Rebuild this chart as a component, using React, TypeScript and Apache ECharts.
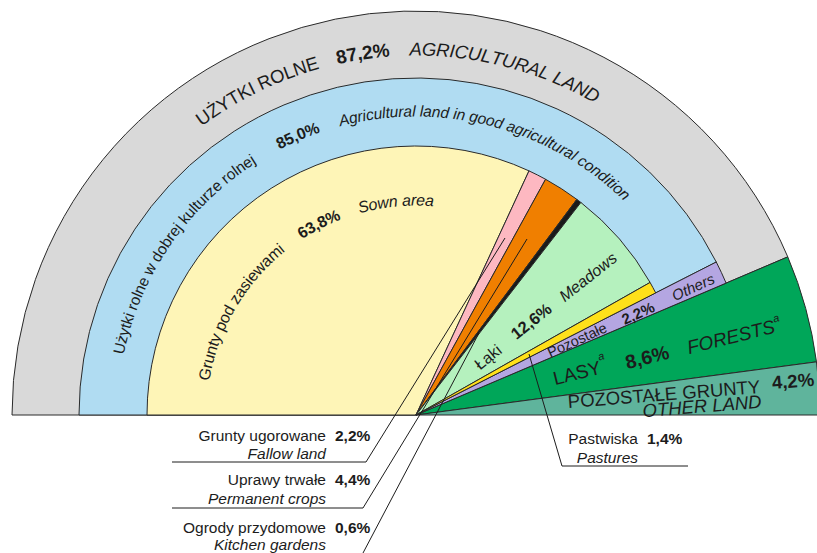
import React, { useEffect, useRef } from 'react';
import * as echarts from 'echarts';

// ---------- data (percent of total area) ----------
const outerNames = ['Użytki rolne', 'Lasy', 'Pozostałe grunty'];
const outerValues = [87.2, 8.6, 4.2];
const midNames = ['Użytki rolne w dobrej kulturze rolnej', 'Pozostałe'];
const midValues = [85.0, 2.2];
const innerNames = ['Grunty pod zasiewami', 'Grunty ugorowane', 'Uprawy trwałe', 'Ogrody przydomowe', 'Łąki', 'Pastwiska'];
const innerValues = [63.8, 2.2, 4.4, 0.6, 12.6, 1.4];

const calloutPl = ['Grunty ugorowane', 'Uprawy trwałe', 'Ogrody przydomowe'];
const calloutEn = ['Fallow land', 'Permanent crops', 'Kitchen gardens'];
const calloutVal = ['2,2%', '4,4%', '0,6%'];

// ---------- styles ----------
const outerColors = ['#d9d9d9', '#00a659', '#5fb49c'];
const midColors = ['#b0dcf2', '#b4a6e2'];
const innerColors = ['#fef5b7', '#fdb8c1', '#f07f00', '#1a1a1a', '#b5f1be', '#ffe01a'];

const CX = 416, CY = 415;
const R_OUTER = 404, R_MID = 337, R_INNER = 269;
const FAMILY = "'Liberation Sans', Arial, Helvetica, sans-serif";
const INK = '#1c1c1c';
const EDGE = '#2a2a2a';

const f = (size: number, weight = 'normal', style = 'normal') => `${style} ${weight} ${size}px ${FAMILY}`;

let mctx: CanvasRenderingContext2D | null = null;
function measure(t: string, font: string) {
  if (!mctx) mctx = document.createElement('canvas').getContext('2d');
  mctx!.font = font;
  return mctx!.measureText(t).width;
}

function txt(x: number, y: number, text: string, font: string, align = 'center', rotDeg = 0, fill = INK) {
  return {
    type: 'text', x, y, rotation: (rotDeg * Math.PI) / 180, silent: true, z: 10,
    style: { text, font, fill, textAlign: align, textVerticalAlign: 'middle', align, verticalAlign: 'middle' },
  };
}

function arcText(r: number, startDeg: number, text: string, font: string) {
  const els: any[] = [];
  let cum = 0;
  for (const ch of Array.from(text)) {
    const w = measure(ch, font);
    const th = ((startDeg - ((cum + w / 2) / r) * (180 / Math.PI)) * Math.PI) / 180;
    if (ch !== ' ') {
      els.push({
        type: 'text', x: CX + r * Math.cos(th), y: CY - r * Math.sin(th), rotation: th - Math.PI / 2,
        silent: true, z: 10,
        style: { text: ch, font, fill: INK, textAlign: 'center', textVerticalAlign: 'middle', align: 'center', verticalAlign: 'middle' },
      });
    }
    cum += w;
  }
  return els;
}

function line(points: number[][]) {
  return { type: 'polyline', silent: true, z: 9, shape: { points }, style: { stroke: INK, lineWidth: 1, fill: 'none' } };
}

const sum = (a: number[]) => a.reduce((s, v) => s + v, 0);
const TOTAL = sum(outerValues);
const hidden = { itemStyle: { color: 'rgba(0,0,0,0)', borderWidth: 0 } };

function pie(names: string[], values: number[], colors: string[], radius: number) {
  const data: any[] = names.map((n, i) => ({ name: n, value: values[i], itemStyle: { color: colors[i] } }));
  const pad = TOTAL - sum(values);
  if (pad > 0.0001) data.push({ name: 'rest', value: pad, ...hidden });
  data.push({ name: 'bottom', value: TOTAL, ...hidden });
  return {
    type: 'pie', center: [CX, CY], radius: [0, radius], startAngle: 180, clockwise: true,
    silent: true, avoidLabelOverlap: false, label: { show: false }, labelLine: { show: false },
    emphasis: { disabled: true }, itemStyle: { borderColor: EDGE, borderWidth: 1 }, data,
  };
}

function buildOption() {
  const g: any[] = [];
  // curved ring labels
  g.push(...arcText(366, 126.6, 'UŻYTKI ROLNE', f(18.5)));
  g.push(...arcText(366, 102.6, '87,2%', f(19, 'bold')));
  g.push(...arcText(366, 91, 'AGRICULTURAL LAND', f(18.5, 'normal', 'italic')));
  g.push(...arcText(304, 168.4, 'Użytki rolne w dobrej kulturze rolnej', f(15.5)));
  g.push(...arcText(304, 117.2, '85,0%', f(16, 'bold')));
  g.push(...arcText(304, 104.7, 'Agricultural land in good agricultural condition', f(15.5, 'normal', 'italic')));
  g.push(...arcText(215, 170.7, 'Grunty pod zasiewami', f(16)));
  g.push(...arcText(215, 123, '63,8%', f(16, 'bold')));
  g.push(...arcText(215, 105.6, 'Sown area', f(16, 'normal', 'italic')));

  // radial labels
  g.push(txt(488, 357, 'Łąki', f(16), 'center', 38.5));
  g.push(txt(531, 321, '12,6%', f(16.5, 'bold'), 'center', 38.5));
  g.push(txt(588, 277, 'Meadows', f(16, 'normal', 'italic'), 'center', 38.5));

  g.push(txt(577, 340, 'Pozostałe', f(14.5), 'center', 24.6));
  g.push(txt(638, 313, '2,2%', f(15, 'bold'), 'center', 24.6));
  g.push(txt(693, 287, 'Others', f(15, 'normal', 'italic'), 'center', 24.6));

  g.push(txt(577, 373, 'LASY', f(19), 'center', 14));
  g.push(txt(601, 356, 'a', f(11, 'normal', 'italic'), 'center', 14));
  g.push(txt(647, 357, '8,6%', f(19.5, 'bold'), 'center', 14));
  g.push(txt(731, 337, 'FORESTS', f(19, 'normal', 'italic'), 'center', 14));
  g.push(txt(776, 318, 'a', f(11, 'normal', 'italic'), 'center', 14));

  g.push(txt(664, 394, 'POZOSTAŁE GRUNTY', f(18.5), 'center', 4.5));
  g.push(txt(793, 381, '4,2%', f(18.5, 'bold'), 'center', 4.5));
  g.push(txt(702, 406, 'OTHER LAND', f(18.5, 'normal', 'italic'), 'center', 4.5));

  // callouts below
  const ys = [435, 479, 527];
  const ys2 = [453, 498, 544];
  for (let i = 0; i < 3; i++) {
    g.push(txt(326, ys[i], calloutPl[i], f(15.5), 'left' === 'x' ? 'left' : 'right'));
    g.push(txt(326, ys2[i], calloutEn[i], f(15.5, 'normal', 'italic'), 'right'));
    g.push(txt(335, ys[i], calloutVal[i], f(15.5, 'bold'), 'left'));
  }
  g.push(txt(638, 438, 'Pastwiska', f(15.5), 'right'));
  g.push(txt(638, 457, 'Pastures', f(15.5, 'normal', 'italic'), 'right'));
  g.push(txt(647, 438, '1,4%', f(15.5, 'bold'), 'left'));

  // leader lines
  g.push(line([[172, 462], [366, 462], [505, 238]]));
  g.push(line([[172, 508], [363, 508], [527, 239]]));
  g.push(line([[363, 553], [479, 333]]));
  g.push(line([[529, 354], [562, 466], [688, 466]]));

  return {
    animation: false,
    backgroundColor: '#ffffff',
    series: [
      pie(outerNames, outerValues, outerColors, R_OUTER),
      pie(midNames, midValues, midColors, R_MID),
      pie(innerNames, innerValues, innerColors, R_INNER),
    ],
    graphic: { elements: g },
  };
}

export default function App() {
  const ref = useRef<HTMLDivElement>(null);
  useEffect(() => {
    const chart = echarts.init(ref.current!, null, { renderer: 'svg' });
    chart.setOption(buildOption() as any);
    return () => chart.dispose();
  }, []);
  return (
    <div
      ref={ref}
      style={{ position: 'fixed', left: 0, top: 0, width: 817, height: 553, background: '#fff' }}
    />
  );
}
